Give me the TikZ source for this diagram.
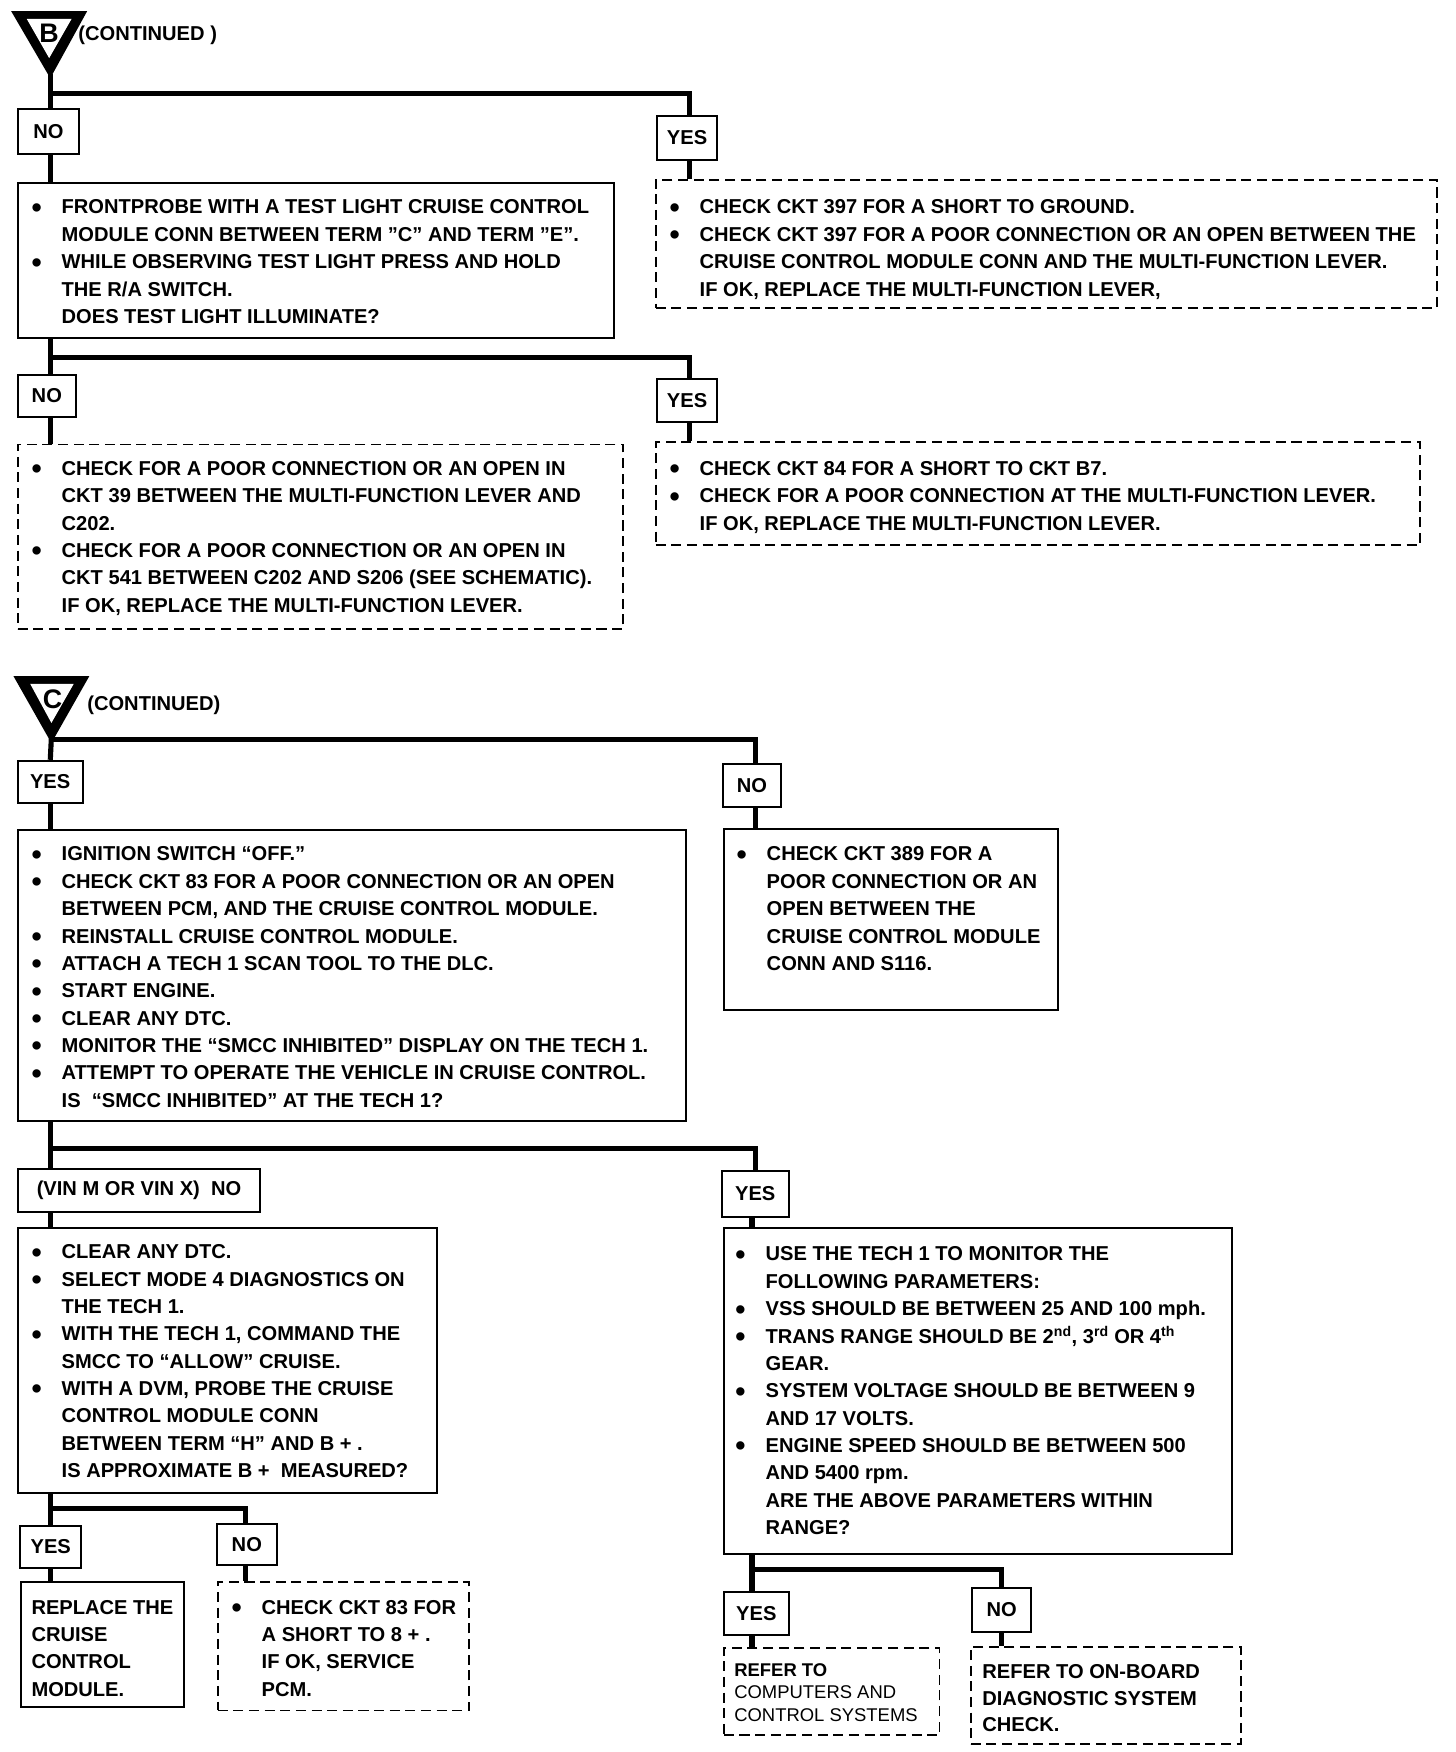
\documentclass[tikz,border=0pt]{standalone}
\usepackage{fontspec}
\setmainfont{Liberation Sans}
\newcommand{\bulx}{\makebox[27pt][l]{\raisebox{-3pt}{\fontsize{26}{26}\selectfont\textbullet}}}
\newcommand{\indx}{\hspace*{27pt}}
\begin{document}
\begin{tikzpicture}[x=1pt,y=-1pt,
  txt/.style={inner sep=0pt,anchor=base west,align=left,font=\fontsize{18}{24.5}\selectfont\bfseries},
  lbl/.style={draw,line width=1.8pt,inner sep=0pt,anchor=north west,font=\fontsize{18}{22}\selectfont\bfseries},
  sbox/.style={draw,line width=1.8pt,inner sep=0pt,anchor=north west},
  dbox/.style={draw,line width=1.6pt,dash pattern=on 9pt off 5pt,inner sep=0pt,anchor=north west},
  conn/.style={line width=4.6pt,line join=miter}]
\fill[white] (0,0) rectangle (1303,1568);
\useasboundingbox (0,0) rectangle (1303,1568);

% stem x positions
\coordinate (sL) at (45,0);
\coordinate (sR1) at (617,0);
\coordinate (sCR) at (676,0);
\coordinate (sN3) at (220,0);
\coordinate (sY4) at (673,0);
\coordinate (sN4) at (896,0);

% ---------- Section B ----------
\fill[black] (10,10) -- (78,10) -- (45,70) -- cycle;
\fill[white] (24,17) -- (64,17) -- (44,52) -- cycle;
\node[inner sep=0pt,font=\fontsize{24}{24}\selectfont\bfseries] (letB) at (44,30) {B};
\coordinate (triB) at (45,66);
\node[txt,font=\fontsize{18}{22}\selectfont\bfseries] (contB) at (70,36) {(CONTINUED )};

\node[lbl,minimum width=55pt,minimum height=40pt] (no1) at (15,97) {NO};
\node[lbl,minimum width=54pt,minimum height=39pt] (yes1) at (587,103) {YES};
\node[sbox,minimum width=534pt,minimum height=139pt] (b1) at (15,163) {};
\node[txt] (tb1) at (28,191.5) {\begin{tabular}[t]{@{}l@{}}
\bulx FRONTPROBE WITH A TEST LIGHT CRUISE CONTROL\\
\indx MODULE CONN BETWEEN TERM "C" AND TERM "E".\\
\bulx WHILE OBSERVING TEST LIGHT PRESS AND HOLD\\
\indx THE R/A SWITCH.\\
\indx DOES TEST LIGHT ILLUMINATE?\end{tabular}};
\node[dbox,minimum width=699pt,minimum height=115pt] (r1) at (586,160) {};
\node[txt] (tr1) at (599,191.5) {\begin{tabular}[t]{@{}l@{}}
\bulx CHECK CKT 397 FOR A SHORT TO GROUND.\\
\bulx CHECK CKT 397 FOR A POOR CONNECTION OR AN OPEN BETWEEN THE\\
\indx CRUISE CONTROL MODULE CONN AND THE MULTI-FUNCTION LEVER.\\
\indx IF OK, REPLACE THE MULTI-FUNCTION LEVER,\end{tabular}};

\coordinate (jB1) at (45,84);
\draw[conn] (triB) -- (no1.north -| sL);
\draw[conn] (jB1) -| (yes1.north -| sR1);
\draw[conn] (no1.south -| sL) -- (b1.north -| sL);
\draw[conn] (yes1.south -| sR1) -- (r1.north -| sR1);

\node[lbl,minimum width=52pt,minimum height=37pt] (no2) at (15,335) {NO};
\node[lbl,minimum width=54pt,minimum height=39pt] (yes2) at (587,338) {YES};
\node[dbox,minimum width=542pt,minimum height=165pt] (l2) at (15,397) {};
\node[txt] (tl2) at (28,425.5) {\begin{tabular}[t]{@{}l@{}}
\bulx CHECK FOR A POOR CONNECTION OR AN OPEN IN\\
\indx CKT 39 BETWEEN THE MULTI-FUNCTION LEVER AND\\
\indx C202.\\
\bulx CHECK FOR A POOR CONNECTION OR AN OPEN IN\\
\indx CKT 541 BETWEEN C202 AND S206 (SEE SCHEMATIC).\\
\indx IF OK, REPLACE THE MULTI-FUNCTION LEVER.\end{tabular}};
\node[dbox,minimum width=684pt,minimum height=92pt] (r2) at (586,395) {};
\node[txt] (tr2) at (599,425.5) {\begin{tabular}[t]{@{}l@{}}
\bulx CHECK CKT 84 FOR A SHORT TO CKT B7.\\
\bulx CHECK FOR A POOR CONNECTION AT THE MULTI-FUNCTION LEVER.\\
\indx IF OK, REPLACE THE MULTI-FUNCTION LEVER.\end{tabular}};

\coordinate (jB2) at (45,320);
\draw[conn] (b1.south -| sL) -- (no2.north -| sL);
\draw[conn] (jB2) -| (yes2.north -| sR1);
\draw[conn] (no2.south -| sL) -- (l2.north -| sL);
\draw[conn] (yes2.south -| sR1) -- (r2.north -| sR1);

% ---------- Section C ----------
\fill[black] (12,605) -- (80,605) -- (46,665) -- cycle;
\fill[white] (27,612) -- (66,612) -- (46,647) -- cycle;
\node[inner sep=0pt,font=\fontsize{24}{24}\selectfont\bfseries] (letC) at (47,626) {C};
\coordinate (triC) at (46,660);
\node[txt,font=\fontsize{18}{22}\selectfont\bfseries] (contC) at (78,636) {(CONTINUED)};

\node[lbl,minimum width=58pt,minimum height=38pt] (yesC) at (15,680) {YES};
\node[lbl,minimum width=52pt,minimum height=38pt] (noC) at (646,683) {NO};
\node[sbox,minimum width=598pt,minimum height=260pt] (c1) at (15,742) {};
\node[txt] (tc1) at (28,770.5) {\begin{tabular}[t]{@{}l@{}}
\bulx IGNITION SWITCH “OFF.”\\
\bulx CHECK CKT 83 FOR A POOR CONNECTION OR AN OPEN\\
\indx BETWEEN PCM, AND THE CRUISE CONTROL MODULE.\\
\bulx REINSTALL CRUISE CONTROL MODULE.\\
\bulx ATTACH A TECH 1 SCAN TOOL TO THE DLC.\\
\bulx START ENGINE.\\
\bulx CLEAR ANY DTC.\\
\bulx MONITOR THE “SMCC INHIBITED” DISPLAY ON THE TECH 1.\\
\bulx ATTEMPT TO OPERATE THE VEHICLE IN CRUISE CONTROL.\\
\indx IS\ \ “SMCC INHIBITED” AT THE TECH 1?\end{tabular}};
\node[sbox,minimum width=299pt,minimum height=162pt] (c2) at (647,741) {};
\node[txt] (tc2) at (659,770.5) {\begin{tabular}[t]{@{}l@{}}
\bulx CHECK CKT 389 FOR A\\
\indx POOR CONNECTION OR AN\\
\indx OPEN BETWEEN THE\\
\indx CRUISE CONTROL MODULE\\
\indx CONN AND S116.\end{tabular}};

\coordinate (jC1) at (46,662);
\draw[conn] (triC) -- (yesC.north -| sL);
\draw[conn] (jC1) -| (noC.north -| sCR);
\draw[conn] (yesC.south -| sL) -- (c1.north -| sL);
\draw[conn] (noC.south -| sCR) -- (c2.north -| sCR);

\node[lbl,minimum width=217pt,minimum height=39pt] (vinno) at (15,1045) {(VIN M OR VIN X)\ \ NO};
\node[lbl,minimum width=60pt,minimum height=41pt] (yesC2) at (645,1047) {YES};
\node[sbox,minimum width=375pt,minimum height=237pt] (c3) at (15,1098) {};
\node[txt] (tc3) at (28,1126.5) {\begin{tabular}[t]{@{}l@{}}
\bulx CLEAR ANY DTC.\\
\bulx SELECT MODE 4 DIAGNOSTICS ON\\
\indx THE TECH 1.\\
\bulx WITH THE TECH 1, COMMAND THE\\
\indx SMCC TO “ALLOW” CRUISE.\\
\bulx WITH A DVM, PROBE THE CRUISE\\
\indx CONTROL MODULE CONN\\
\indx BETWEEN TERM “H” AND B + .\\
\indx IS APPROXIMATE B +\ \ MEASURED?\end{tabular}};
\node[sbox,minimum width=455pt,minimum height=292pt] (c4) at (647,1098) {};
\node[txt] (tc4) at (658,1128.5) {\begin{tabular}[t]{@{}l@{}}
\bulx USE THE TECH 1 TO MONITOR THE\\
\indx FOLLOWING PARAMETERS:\\
\bulx VSS SHOULD BE BETWEEN 25 AND 100 mph.\\
\bulx TRANS RANGE SHOULD BE 2\textsuperscript{nd}, 3\textsuperscript{rd} OR 4\textsuperscript{th}\\
\indx GEAR.\\
\bulx SYSTEM VOLTAGE SHOULD BE BETWEEN 9\\
\indx AND 17 VOLTS.\\
\bulx ENGINE SPEED SHOULD BE BETWEEN 500\\
\indx AND 5400 rpm.\\
\indx ARE THE ABOVE PARAMETERS WITHIN\\
\indx RANGE?\end{tabular}};

\coordinate (jC2) at (46,1028);
\draw[conn] (c1.south -| sL) -- (vinno.north -| sL);
\draw[conn] (jC2) -| (yesC2.north -| sCR);
\draw[conn] (vinno.south -| sL) -- (c3.north -| sL);
\draw[conn] (yesC2.south -| sY4) -- (c4.north -| sY4);

\node[lbl,minimum width=55pt,minimum height=37pt] (yesC3) at (17,1365) {YES};
\node[lbl,minimum width=54pt,minimum height=37pt] (noC3) at (193,1363) {NO};
\node[sbox,minimum width=146pt,minimum height=112pt] (c5) at (18,1415) {};
\node[txt] (tc5) at (28,1444.5) {\begin{tabular}[t]{@{}l@{}}
REPLACE THE\\
CRUISE\\
CONTROL\\
MODULE.\end{tabular}};
\node[dbox,minimum width=225pt,minimum height=115pt] (c6) at (194,1415) {};
\node[txt] (tc6) at (207,1444.5) {\begin{tabular}[t]{@{}l@{}}
\bulx CHECK CKT 83 FOR\\
\indx A SHORT TO 8 + .\\
\indx IF OK, SERVICE\\
\indx PCM.\end{tabular}};

\coordinate (jC3) at (45,1350);
\draw[conn] (c3.south -| sL) -- (yesC3.north -| sL);
\draw[conn] (jC3) -| (noC3.north -| sN3);
\draw[conn] (yesC3.south -| sL) -- (c5.north -| sL);
\draw[conn] (noC3.south -| sN3) -- (c6.north -| sN3);

\node[lbl,minimum width=58pt,minimum height=38pt] (yesC4) at (647,1424) {YES};
\node[lbl,minimum width=53pt,minimum height=40pt] (noC4) at (869,1420) {NO};
\node[dbox,minimum width=193pt,minimum height=78pt] (c7) at (647,1474) {};
\node[txt,font=\fontsize{16.5}{20.5}\selectfont] (tc7) at (657,1500) {\begin{tabular}[t]{@{}l@{}}
\textbf{REFER TO}\\
COMPUTERS AND\\
CONTROL SYSTEMS\end{tabular}};
\node[dbox,minimum width=242pt,minimum height=87pt] (c8) at (868,1473) {};
\node[txt,font=\fontsize{18}{24}\selectfont\bfseries] (tc8) at (879,1502) {\begin{tabular}[t]{@{}l@{}}
REFER TO ON-BOARD\\
DIAGNOSTIC SYSTEM\\
CHECK.\end{tabular}};

\coordinate (jC4) at (673,1405);
\draw[conn] (c4.south -| sY4) -- (yesC4.north -| sY4);
\draw[conn] (jC4) -| (noC4.north -| sN4);
\draw[conn] (yesC4.south -| sY4) -- (c7.north -| sY4);
\draw[conn] (noC4.south -| sN4) -- (c8.north -| sN4);
\end{tikzpicture}
\end{document}
